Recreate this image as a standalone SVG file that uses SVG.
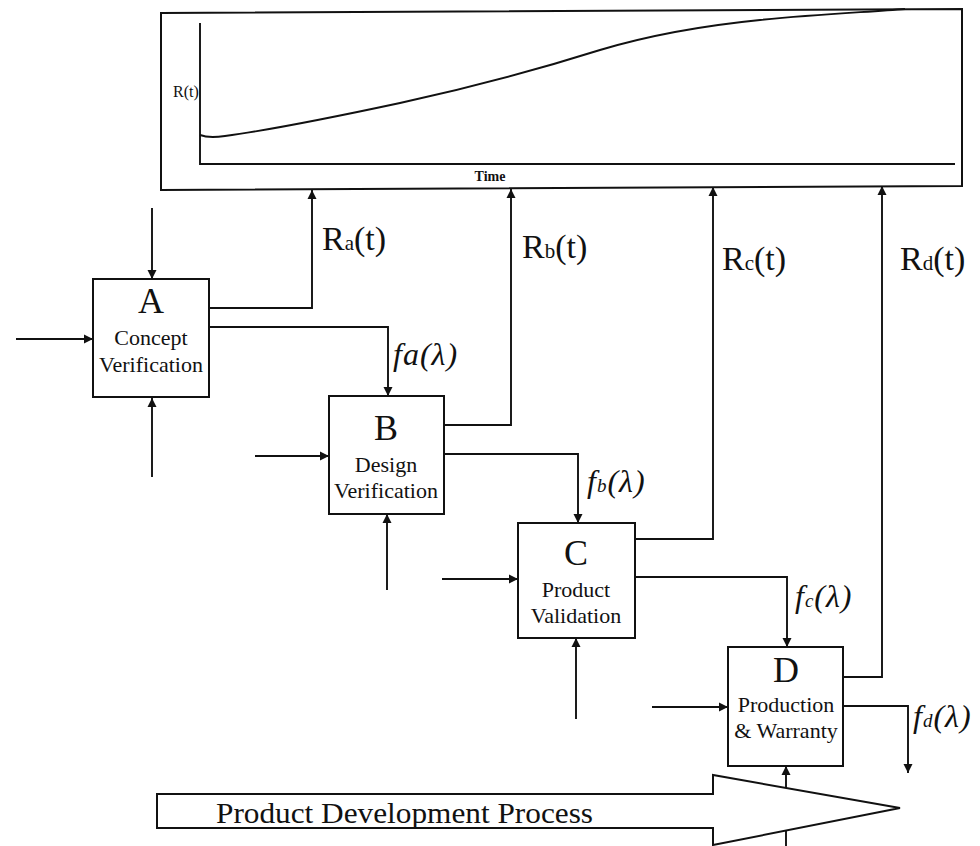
<svg xmlns="http://www.w3.org/2000/svg" width="980" height="846" viewBox="0 0 980 846">
<style>
.ln{fill:none;stroke:#111;stroke-width:1.9}
.box{fill:#fff;stroke:#111;stroke-width:2}
.t{font-family:"Liberation Serif","Times New Roman",serif;fill:#111}
.big{font-size:36px;text-anchor:middle}
.lbl{font-size:22px;text-anchor:middle}
.rl{font-size:34px}
.fl{font-size:32px;font-style:italic;letter-spacing:1px}
</style>
<defs>
<marker id="ah" viewBox="0 0 10 10" refX="10" refY="5" markerWidth="9" markerHeight="10" markerUnits="userSpaceOnUse" orient="auto">
<path d="M0,0 L10,5 L0,10 z" fill="#111"/>
</marker>
</defs>
<rect width="980" height="846" fill="#fff"/>

<g id="chart">
<polygon points="161,13 962,9 962,186 161,190" fill="none" stroke="#111" stroke-width="2"/>
<path d="M200,23 V164 H955" class="ln"/>
<path d="M200,135 C205,137 212,138 225,136 C270,130 330,118 400,103 C460,90 530,72 600,50 C650,35 700,26 760,20 C820,14 870,12 905,9" class="ln" stroke-width="2"/>
<text x="173" y="97" class="t" font-size="16">R(t)</text>
<text x="490" y="181" class="t" font-size="14" font-weight="bold" text-anchor="middle">Time</text>
</g>

<g id="connectors">
<path d="M152,208 V279" class="ln" marker-end="url(#ah)"/>
<path d="M16,339 H93" class="ln" marker-end="url(#ah)"/>
<path d="M152,477 V398" class="ln" marker-end="url(#ah)"/>
<path d="M209,308 H312 V190" class="ln" marker-end="url(#ah)"/>
<path d="M209,327 H388 V396" class="ln" marker-end="url(#ah)"/>
<path d="M255,456 H329" class="ln" marker-end="url(#ah)"/>
<path d="M387,590 V514" class="ln" marker-end="url(#ah)"/>
<path d="M444,425 H511 V189" class="ln" marker-end="url(#ah)"/>
<path d="M444,454 H578 V523" class="ln" marker-end="url(#ah)"/>
<path d="M442,579 H518" class="ln" marker-end="url(#ah)"/>
<path d="M576,719 V638" class="ln" marker-end="url(#ah)"/>
<path d="M635,539 H713 V187" class="ln" marker-end="url(#ah)"/>
<path d="M635,577 H787 V647" class="ln" marker-end="url(#ah)"/>
<path d="M652,707 H728" class="ln" marker-end="url(#ah)"/>
<path d="M786,846 V766" class="ln" marker-end="url(#ah)"/>
<path d="M843,677 H882 V186" class="ln" marker-end="url(#ah)"/>
<path d="M843,706 H908 V773" class="ln" marker-end="url(#ah)"/>
<text x="322" y="250" class="t rl">R<tspan font-size="21">a</tspan>(t)</text>
<text x="522" y="258" class="t rl">R<tspan font-size="21">b</tspan>(t)</text>
<text x="722" y="270" class="t rl">R<tspan font-size="21">c</tspan>(t)</text>
<text x="900" y="270" class="t rl">R<tspan font-size="21">d</tspan>(t)</text>
<text x="393" y="365" class="t fl">fa(λ)</text>
<text x="587" y="492" class="t fl">f<tspan font-size="19">b</tspan>(λ)</text>
<text x="795" y="607" class="t fl">f<tspan font-size="19">c</tspan>(λ)</text>
<text x="913" y="727" class="t fl">f<tspan font-size="19">d</tspan>(λ)</text>
</g>

<g id="nodeA">
<rect x="93" y="279" width="116" height="118" class="box"/>
<text x="151" y="313" class="t big">A</text>
<text x="151" y="345" class="t lbl">Concept</text>
<text x="151" y="372" class="t lbl">Verification</text>
</g>

<g id="nodeB">
<rect x="329" y="396" width="115" height="118" class="box"/>
<text x="386" y="440" class="t big">B</text>
<text x="386" y="472" class="t lbl">Design</text>
<text x="386" y="498" class="t lbl">Verification</text>
</g>

<g id="nodeC">
<rect x="518" y="523" width="117" height="115" class="box"/>
<text x="576" y="565" class="t big">C</text>
<text x="576" y="597" class="t lbl">Product</text>
<text x="576" y="623" class="t lbl">Validation</text>
</g>

<g id="nodeD">
<rect x="728" y="647" width="115" height="119" class="box"/>
<text x="786" y="682" class="t big">D</text>
<text x="786" y="712" class="t lbl">Production</text>
<text x="786" y="738" class="t lbl">&amp; Warranty</text>
</g>

<g id="process">
<polygon points="157,794 713,794 713,775 900,808 713,845 713,828 157,828" fill="#fff" stroke="#111" stroke-width="2"/>
<text x="216" y="823" class="t" font-size="30" textLength="377" lengthAdjust="spacingAndGlyphs">Product Development Process</text>
</g>
</svg>
